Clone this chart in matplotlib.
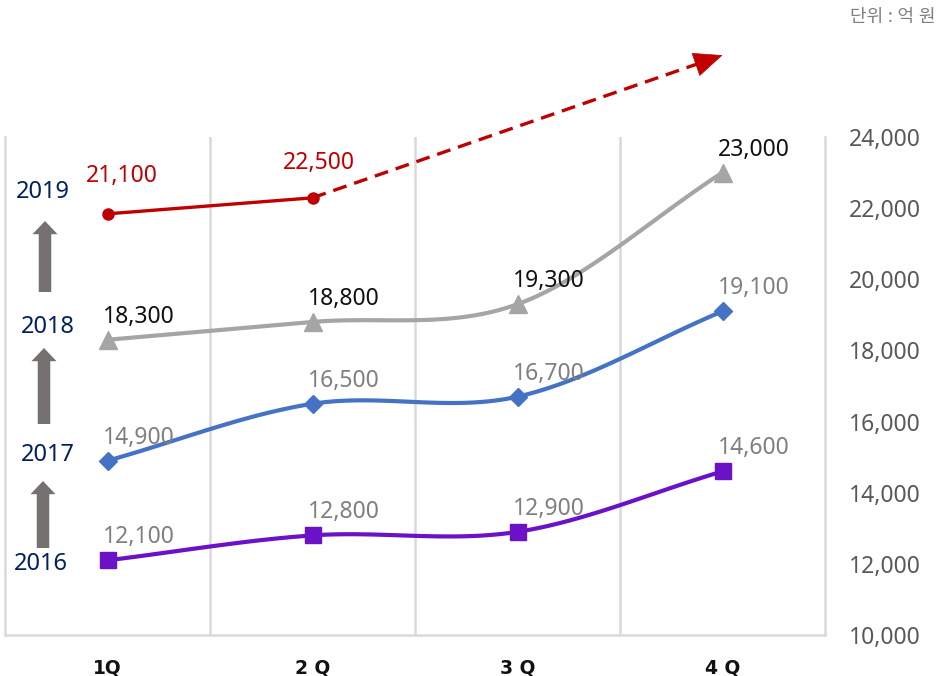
import numpy as np
import matplotlib
matplotlib.use("Agg")
import matplotlib.pyplot as plt

plt.rcParams['font.family'] = ['Noto Sans', 'Noto Sans CJK KR', 'DejaVu Sans']

# ---------------- data ----------------
quarters = ['1Q', '2Q', '3Q', '4Q']
sales_2016 = [12100, 12800, 12900, 14600]
sales_2017 = [14900, 16500, 16700, 19100]
sales_2018 = [18300, 18800, 19300, 23000]
sales_2019_labels = [21100, 22500]          # printed values
sales_2019_plotted = [21840, 22290]         # heights as drawn in the picture
trend_2019_end = [3.0, 26300]               # end of dashed trend arrow (x index, value)
year_names = ['2016', '2017', '2018', '2019']
yticks = [10000, 12000, 14000, 16000, 18000, 20000, 22000, 24000]
unit_text = '단위 : 억 원'

# ---------------- figure ----------------
W, H = 938, 676
fig = plt.figure(figsize=(W / 100, H / 100), dpi=100)
ax_l, ax_r, ax_t, ax_b = 5, 825, 137, 635
ax = fig.add_axes([ax_l / W, (H - ax_b) / H, (ax_r - ax_l) / W, (ax_b - ax_t) / H])
ax.set_xlim(-0.5, 3.5)
ax.set_ylim(10000, 24000)


def smooth(xs, ys, n=40):
    """Bezier smoothing of a polyline (rendering like Excel smooth lines)."""
    xs = np.asarray(xs, float)
    ys = np.asarray(ys, float)
    px = np.concatenate([[2 * xs[0] - xs[1]], xs, [2 * xs[-1] - xs[-2]]])
    py = np.concatenate([[2 * ys[0] - ys[1]], ys, [2 * ys[-1] - ys[-2]]])
    outx, outy = [], []
    for i in range(1, len(px) - 2):
        t = np.linspace(0, 1, n)
        p0, p1, p2, p3 = px[i - 1], px[i], px[i + 1], px[i + 2]
        q0, q1, q2, q3 = py[i - 1], py[i], py[i + 1], py[i + 2]
        tension = 1 / 6
        c1x, c1y = p1 + (p2 - p0) * tension, q1 + (q2 - q0) * tension
        c2x, c2y = p2 - (p3 - p1) * tension, q2 - (q3 - q1) * tension
        bx = (1 - t) ** 3 * p1 + 3 * (1 - t) ** 2 * t * c1x + 3 * (1 - t) * t ** 2 * c2x + t ** 3 * p2
        by = (1 - t) ** 3 * q1 + 3 * (1 - t) ** 2 * t * c1y + 3 * (1 - t) * t ** 2 * c2y + t ** 3 * q2
        outx.extend(bx)
        outy.extend(by)
    return np.array(outx), np.array(outy)


x = np.arange(len(quarters))

series = [
    (sales_2016, '#6B12C8', 's', 12, '#7f7f7f'),
    (sales_2017, '#4472C4', 'D', 9, '#7f7f7f'),
    (sales_2018, '#A5A5A5', '^', 13, '#111111'),
]
for vals, col, mk, ms, lcol in series:
    sx, sy = smooth(x, vals)
    ax.plot(sx, sy, color=col, lw=3.0, solid_capstyle='round', zorder=3)
    ax.plot(x, vals, ls='none', marker=mk, ms=ms, color=col, zorder=4)
    for xi, v in zip(x, vals):
        ax.annotate(f'{v:,}', (xi, v), xytext=(31, 23), textcoords='offset pixels',
                    ha='center', va='center', fontsize=16.5, color=lcol, zorder=5)

# 2019 series (two points + dashed trend arrow)
red = '#C00000'
x19 = x[:len(sales_2019_plotted)]
ax.plot(x19, sales_2019_plotted, color=red, lw=2.4, marker='o', ms=8, zorder=4)
red_offsets = [(14, 38), (6, 35)]
for xi, v, lab, off in zip(x19, sales_2019_plotted, sales_2019_labels, red_offsets):
    ax.annotate(f'{lab:,}', (xi, v), xytext=off, textcoords='offset pixels',
                ha='center', va='center', fontsize=16.5, color=red, zorder=5)

# dashed shaft, then solid head
p_start = ax.transData.transform((x19[-1], sales_2019_plotted[-1]))
p_end = ax.transData.transform((trend_2019_end[0], trend_2019_end[1]))
d = (p_end - p_start) / np.linalg.norm(p_end - p_start)
shaft_end = ax.transData.inverted().transform(p_end - d * 16)
head_back = ax.transData.inverted().transform(p_end - d * 22)
ax.plot([x19[-1], shaft_end[0]], [sales_2019_plotted[-1], shaft_end[1]],
        color=red, lw=2.4, ls=(0, (4.2, 2.4)), clip_on=False, zorder=4)
ax.annotate('', xy=(trend_2019_end[0], trend_2019_end[1]), xytext=tuple(head_back),
            arrowprops=dict(arrowstyle='-|>,head_length=1.4,head_width=0.6',
                            mutation_scale=14, color=red, lw=0.5,
                            shrinkA=0, shrinkB=0), annotation_clip=False, zorder=4)

# gridlines / spines
for b in np.arange(0.5, 3.5, 1.0):
    ax.axvline(b, color='#D9D9D9', lw=1.8, zorder=1)
for s in ['left', 'right', 'bottom']:
    ax.spines[s].set_color('#D9D9D9')
    ax.spines[s].set_linewidth(1.8)
ax.spines['top'].set_visible(False)

ax.set_xticks(x)
ax.set_xticklabels([' '.join(q) if q[0] != '1' else q for q in quarters],
                   fontsize=13.5, fontweight='bold', color='#111111', family='DejaVu Sans')
ax.tick_params(axis='x', length=0, pad=17)
ax.yaxis.tick_right()
ax.set_yticks(yticks)
ax.set_yticklabels([f'{v:,}' for v in yticks], fontsize=16.5, color='#595959')
ax.tick_params(axis='y', length=0, pad=17)


# left-side year labels and arrows (pixel layout converted to axes fraction)
def afrac(px, py):
    return ((px - ax_l) / (ax_r - ax_l), (ax_b - py) / (ax_b - ax_t))


year_pos = [(40.5, 564), (48, 455), (48, 327), (43, 192)]
for name, (px, py) in zip(year_names, year_pos):
    fx, fy = afrac(px, py)
    ax.text(fx, fy, name, transform=ax.transAxes, ha='center', va='center',
            fontsize=17, color='#002060', zorder=5)

arrow_px = [(43, 548, 481), (44, 424, 348), (45, 292, 221)]
for px, tail, tip in arrow_px:
    ax.annotate('', xy=afrac(px, tip), xytext=afrac(px, tail),
                xycoords='axes fraction', textcoords='axes fraction',
                arrowprops=dict(arrowstyle='simple,head_length=0.95,head_width=1.8,tail_width=0.9',
                                mutation_scale=10, color='#767171', lw=0,
                                shrinkA=0, shrinkB=0), zorder=4)

fig.text(935 / W, 1 - 17 / H, unit_text, ha='right', va='center',
         fontsize=13, color='#7f7f7f')

fig.savefig('out.png', dpi=100)
